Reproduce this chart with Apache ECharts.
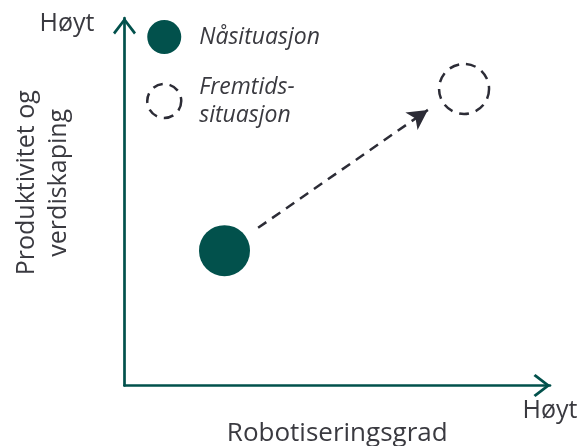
<!DOCTYPE html>
<html>
<head>
<meta charset="utf-8">
<script src="https://cdn.jsdelivr.net/npm/echarts@6/dist/echarts.min.js"></script>
<style>
  html, body { margin: 0; padding: 0; background: #fff; }
  #chart { width: 579px; height: 446px; }
</style>
</head>
<body>
<div id="chart"></div>
<script>
// akser og tekster
var xName = 'Robotiseringsgrad'
var yName = 'Produktivitet og\nverdiskaping'
var highLabel = 'Høyt'
var axisMin = 0
var axisMax = 100

// serier
var seriesNames = ['Nåsituasjon', 'Fremtids-\nsituasjon']
var currentPoint = [23.5, 36.7]
var futurePoint = [79.8, 80.7]

// pil mellom dagens og fremtidig situasjon
var arrowStart = [31.4, 42.9]
var arrowEnd = [71.3, 75.0]

var teal = '#02514c'
var dark = '#2c2c36'
var textColor = '#3a3a40'
var font = 'Open Sans'

// åpen pilspiss på aksene
var chevron = 'path://M11.5,0 L23,15 L21,17 L11.5,4.5 L2,17 L0,15 Z'

function highOnly (v) {
    return v === axisMax ? highLabel : ''
}

var myChart = echarts.init(document.getElementById('chart'))

var option = {
    animation: false,
    grid: {
        left: 124.5,
        right: 29,
        top: 18,
        bottom: 60.5,
        containLabel: false,
        outerBoundsMode: 'none'
    },
    legend: {
        orient: 'vertical',
        left: 146,
        top: 20,
        padding: 0,
        itemWidth: 34,
        itemHeight: 34,
        itemGap: 19,
        data: [
            { name: seriesNames[0] },
            { name: seriesNames[1], itemStyle: { borderType: [10, 7], borderWidth: 2.5 } }
        ],
        textStyle: {
            fontFamily: font,
            fontStyle: 'italic',
            fontSize: 23,
            lineHeight: 28,
            color: textColor,
            padding: [0, 0, 0, 13]
        }
    },
    xAxis: {
        type: 'value',
        min: axisMin,
        max: axisMax,
        interval: axisMax,
        name: xName,
        nameLocation: 'middle',
        nameGap: 35,
        nameMoveOverlap: false,
        nameTextStyle: { fontFamily: font, fontSize: 26, color: textColor },
        axisLine: {
            lineStyle: { color: teal, width: 2.7 },
            symbol: ['none', chevron],
            symbolSize: [23, 17],
            symbolOffset: [0, -8]
        },
        axisTick: { show: false },
        splitLine: { show: false },
        axisLabel: {
            formatter: highOnly,
            margin: 13,
            fontFamily: font,
            fontSize: 25,
            color: textColor
        }
    },
    yAxis: {
        type: 'value',
        min: axisMin,
        max: axisMax,
        interval: axisMax,
        name: yName,
        nameLocation: 'middle',
        nameRotate: 90,
        nameGap: 50,
        nameMoveOverlap: false,
        nameTextStyle: {
            fontFamily: font,
            fontSize: 25,
            lineHeight: 32,
            color: textColor,
            padding: [0, 0, 0, 38]
        },
        axisLine: {
            lineStyle: { color: teal, width: 2.7 },
            symbol: ['none', chevron],
            symbolSize: [23, 17],
            symbolOffset: [0, -8]
        },
        axisTick: { show: false },
        splitLine: { show: false },
        axisLabel: {
            formatter: highOnly,
            margin: 30,
            verticalAlign: 'top',
            padding: [-7, 0, 0, 0],
            fontFamily: font,
            fontSize: 25,
            color: textColor
        }
    },
    series: [{
        name: seriesNames[0],
        type: 'scatter',
        symbol: 'circle',
        symbolSize: 51,
        itemStyle: { color: teal, opacity: 1 },
        data: [currentPoint],
        markLine: {
            silent: true,
            symbol: ['none', 'arrow'],
            symbolSize: [16, 20],
            label: { show: false },
            lineStyle: { color: dark, width: 2.5, type: [10, 7] },
            data: [[{ coord: arrowStart }, { coord: arrowEnd }]]
        }
    }, {
        name: seriesNames[1],
        type: 'scatter',
        symbol: 'circle',
        symbolSize: 50,
        itemStyle: {
            color: 'rgba(0,0,0,0)',
            borderColor: dark,
            borderWidth: 2.5,
            borderType: [10, 7],
            opacity: 1
        },
        data: [futurePoint]
    }]
}

myChart.setOption(option)
</script>
</body>
</html>
